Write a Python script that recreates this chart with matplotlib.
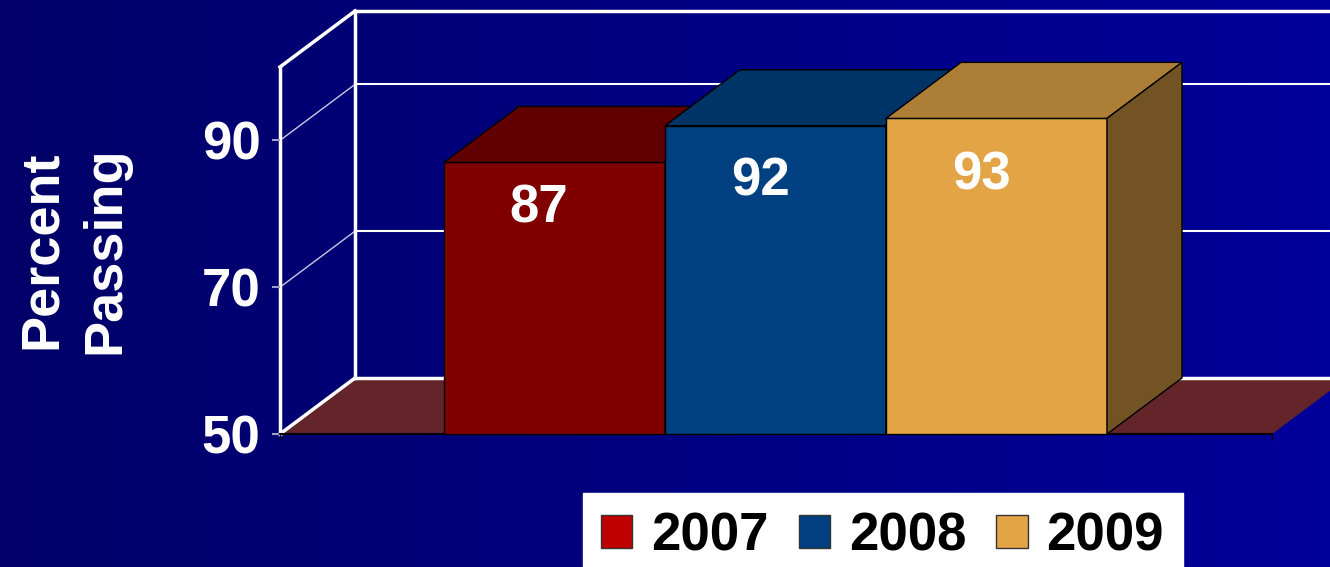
import numpy as np
import matplotlib
matplotlib.use("Agg")
import matplotlib.pyplot as plt
from matplotlib.patches import Polygon, Rectangle
from matplotlib.colors import LinearSegmentedColormap

# ---- data ----
years = ["2007", "2008", "2009"]
values = [87, 92, 93]
front_colors = ["#800000", "#004080", "#E3A445"]
top_colors = ["#600000", "#003366", "#AD7E36"]
side_colors = ["#500000", "#002850", "#735224"]
legend_colors = ["#C00000", "#004080", "#E3A445"]
yticks = [50, 70, 90]
ymin, ymax = 50, 100
ylabel = "Percent\nPassing"

plt.rcParams['font.family'] = ['Liberation Sans', 'DejaVu Sans']

W, H = 1330, 567
fig = plt.figure(figsize=(W / 100, H / 100), dpi=100)

# background gradient
bg = fig.add_axes([0, 0, 1, 1], zorder=-10)
cmap = LinearSegmentedColormap.from_list("bg", ["#000068", "#00009A"])
bg.imshow(np.linspace(0, 1, 256)[None, :], aspect="auto", cmap=cmap, extent=[0, 1, 0, 1])
bg.set_axis_off()

# front plane axes
x0_px, x1_px, yb_px, yt_px = 280, 1272, 434, 67.0
ax = fig.add_axes([x0_px / W, 1 - yb_px / H, (x1_px - x0_px) / W, (yb_px - yt_px) / H])
ax.set_facecolor("none")
xl = (x0_px - 554.5) / 221
xr = (x1_px - 554.5) / 221
ax.set_xlim(xl, xr)
ax.set_ylim(ymin, ymax)

# depth offsets in data units
px_per_x = 221.0
px_per_y = (yb_px - yt_px) / (ymax - ymin)
dx = 75 / px_per_x
dy = 56 / px_per_y

kw = dict(clip_on=False)
# floor
ax.add_patch(Polygon([(xl, ymin), (xr, ymin), (xr + dx, ymin + dy), (xl + dx, ymin + dy)],
                     closed=True, facecolor="#63252A", edgecolor="none", zorder=1, **kw))
ax.plot([xl, xr], [ymin, ymin], color="black", lw=1.5, zorder=2, **kw)
# back wall edges
far = xr + dx + 1.0
ax.plot([xl + dx, far], [ymin + dy, ymin + dy], color="white", lw=2.5, zorder=1.5, **kw)
ax.plot([xl + dx, xl + dx], [ymin + dy, ymax + dy], color="white", lw=2.5, zorder=1.5, **kw)
ax.plot([xl + dx, far], [ymax + dy, ymax + dy], color="white", lw=2.5, zorder=1.5, **kw)
# left wall
ax.plot([xl, xl], [ymin, ymax], color="white", lw=2.5, zorder=1.5, **kw)
ax.plot([xl, xl + dx], [ymax, ymax + dy], color="white", lw=2.5, zorder=1.5, **kw)
ax.plot([xl, xl + dx], [ymin, ymin + dy], color="white", lw=2.5, zorder=1.5, **kw)
# gridlines
for t in yticks[1:]:
    ax.plot([xl, xl + dx], [t, t + dy], color="#C8C8E8", lw=1.0, zorder=1.2, **kw)
    ax.plot([xl + dx, far], [t + dy, t + dy], color="white", lw=1.5, zorder=1.2, **kw)

# bars
for i, (v, fc, tc, sc) in enumerate(zip(values, front_colors, top_colors, side_colors)):
    l, r = i - 0.5, i + 0.5
    z = 3 + i
    ax.add_patch(Polygon([(l, ymin), (r, ymin), (r, v), (l, v)], closed=True,
                         facecolor=fc, edgecolor="black", lw=1.0, zorder=z, **kw))
    ax.add_patch(Polygon([(l, v), (r, v), (r + dx, v + dy), (l + dx, v + dy)], closed=True,
                         facecolor=tc, edgecolor="black", lw=1.0, zorder=z, **kw))
    ax.add_patch(Polygon([(r, ymin), (r + dx, ymin + dy), (r + dx, v + dy), (r, v)], closed=True,
                         facecolor=sc, edgecolor="black", lw=1.0, zorder=z, **kw))
    label_base = 0.75 * v + 13.55
    ax.text(i - 0.07, label_base, str(v), color="white", fontsize=38, fontweight="bold",
            ha="center", va="baseline", zorder=10)

for s in ax.spines.values():
    s.set_visible(False)
ax.set_yticks(yticks)
ax.set_yticklabels([str(t) for t in yticks])
ax.tick_params(axis="y", colors="#A0A0C8", length=6, width=1.5, pad=8, labelsize=38,
               labelcolor="white")
for lab in ax.get_yticklabels():
    lab.set_fontweight("bold")
ax.set_xticks([xl, xr])
ax.set_xticklabels([])
ax.tick_params(axis="x", colors="black", length=4, width=1)

fig.text(74 / W, 1 - 250 / H, ylabel, rotation=90, ha="center", va="center",
         multialignment="center", color="white", fontsize=39, fontweight="bold",
         linespacing=1.35)

handles = [Rectangle((0, 0), 1, 1, facecolor=c, edgecolor="#333333", lw=1) for c in legend_colors]
leg = fig.legend(handles, years, loc="upper left", bbox_to_anchor=(582.5 / W, 1 - 493 / H),
                 ncol=3, frameon=True, prop={"weight": "bold", "size": 38},
                 handlelength=0.59, handleheight=0.59, handletextpad=0.36, columnspacing=0.57,
                 borderpad=0.35, borderaxespad=0, fancybox=False, framealpha=1.0)
leg.get_frame().set_facecolor("white")
leg.get_frame().set_edgecolor("white")

fig.savefig("out.png", dpi=100)
